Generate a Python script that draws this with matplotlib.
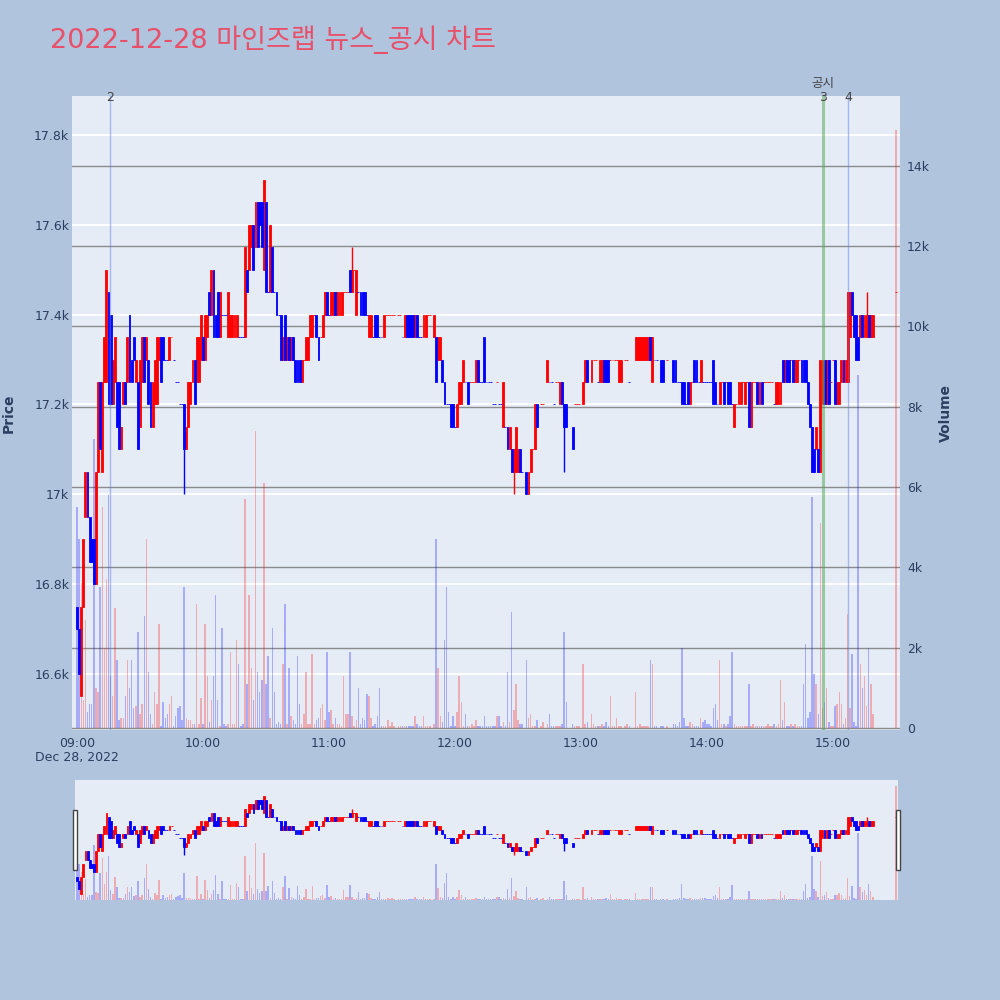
import matplotlib.pyplot as plt
from matplotlib.patches import Rectangle
from matplotlib.transforms import blended_transform_factory
import numpy as np

# 분 단위 (09:00 = 0), 마지막 값은 15:30 동시호가
minutes = list(range(380)) + [390]

opens = [
    16750, 16700, 16550, 16750, 16950, 17050, 16950, 16900, 16900, 16800,
    17050, 17250, 17050, 17250, 17250, 17450, 17400, 17200, 17250, 17250,
    17250, 17100, 17200, 17250, 17250, 17400, 17300, 17350, 17250, 17250,
    17150, 17250, 17350, 17300, 17300, 17250, 17150, 17200, 17200, 17300,
    17350, 17350, 17300, 17300, 17300, 17350, 17300, 17250, 17250, 17200,
    17200, 17200, 17100, 17150, 17200, 17250, 17300, 17250, 17250, 17300,
    17350, 17300, 17350, 17450, 17400, 17500, 17400, 17450, 17350, 17400,
    17400, 17400, 17350, 17350, 17350, 17350, 17350, 17350, 17350, 17350,
    17350, 17500, 17500, 17550, 17600, 17550, 17650, 17650, 17650, 17500,
    17650, 17450, 17450, 17550, 17450, 17450, 17400, 17400, 17300, 17400,
    17300, 17350, 17300, 17350, 17300, 17300, 17300, 17250, 17300, 17300,
    17300, 17350, 17350, 17400, 17400, 17350, 17350, 17350, 17400, 17450,
    17400, 17400, 17400, 17450, 17400, 17400, 17400, 17450, 17450, 17450,
    17500, 17450, 17500, 17400, 17450, 17450, 17450, 17450, 17400, 17350,
    17350, 17350, 17400, 17400, 17350, 17350, 17350, 17400, 17400, 17400,
    17400, 17400, None, 17400, 17400, 17350, 17350, 17400, 17400, 17400,
    17400, 17350, 17400, 17350, 17350, 17350, 17350, 17400, 17400, None,
    17350, 17350, 17300, 17300, 17300, 17250, 17200, 17200, 17200, 17200,
    17150, 17150, 17200, 17200, 17250, 17250, 17250, 17250, 17250, 17250,
    17250, 17300, 17250, 17250, 17350, 17250, 17250, 17250, 17200, 17200,
    17250, 17200, 17200, 17150, 17150, 17150, 17100, 17100, 17050, 17050,
    17050, 17100, 17050, None, 17050, 17000, 17050, 17100, 17100, 17200,
    None, 17200, 17200, None, 17250, 17250, 17250, 17200, 17250, 17250,
    17200, 17250, 17200, 17200, None, None, 17150, 17200, 17200, 17200,
    None, 17200, 17250, 17300, None, 17250, 17300, 17300, 17250, 17250,
    17250, 17300, 17300, 17300, 17300, 17300, 17300, 17300, 17250, 17250,
    None, 17300, 17300, 17250, None, None, 17300, 17300, 17300, 17300,
    17300, 17300, 17300, 17350, 17250, 17300, 17300, None, 17300, 17300,
    None, 17300, None, None, 17300, 17300, 17250, 17250, 17250, 17250,
    17200, 17250, 17200, 17250, 17300, 17300, 17250, 17250, 17250, 17250,
    17250, 17250, 17250, 17300, 17250, 17200, 17200, 17250, 17250, 17250,
    17250, 17250, 17200, 17150, 17200, 17200, 17200, 17250, 17200, 17250,
    17250, 17150, 17250, 17250, 17250, 17200, 17250, 17250, 17250, 17250,
    17250, 17250, 17200, 17200, 17200, 17200, 17300, 17250, 17300, 17300,
    17300, 17300, 17250, 17250, 17300, 17300, 17300, 17300, 17250, 17200,
    17150, 17100, 17100, 17100, 17050, 17200, 17300, 17200, 17300, 17250,
    17300, 17300, 17200, 17200, 17250, 17300, 17250, 17250, 17350, 17450,
    17400, 17400, 17350, 17350, 17400, 17350, 17350, 17400, 17350, 17350,
    17450,
]

closes = [
    16700, 16600, 16750, 16900, 17050, 16950, 16850, 16850, 16800, 17050,
    17250, 17100, 17250, 17350, 17500, 17200, 17200, 17300, 17350, 17150,
    17100, 17150, 17250, 17200, 17350, 17250, 17250, 17300, 17300, 17100,
    17300, 17350, 17250, 17350, 17200, 17150, 17250, 17300, 17350, 17350,
    17250, 17300, 17300, 17300, 17350, 17350, 17300, 17250, 17250, 17200,
    17200, 17100, 17150, 17250, 17250, 17300, 17200, 17350, 17350, 17400,
    17300, 17400, 17400, 17400, 17500, 17350, 17350, 17350, 17450, 17400,
    17400, 17400, 17450, 17400, 17400, 17400, 17400, 17350, 17350, 17350,
    17550, 17450, 17600, 17600, 17500, 17650, 17550, 17600, 17550, 17700,
    17450, 17450, 17600, 17450, 17450, 17400, 17400, 17300, 17350, 17300,
    17350, 17300, 17350, 17300, 17250, 17250, 17250, 17300, 17300, 17350,
    17350, 17400, 17400, 17400, 17350, 17300, 17350, 17400, 17450, 17400,
    17400, 17450, 17450, 17400, 17450, 17450, 17450, 17450, 17450, 17450,
    17450, 17500, 17500, 17500, 17450, 17400, 17400, 17400, 17400, 17400,
    17400, 17350, 17350, 17350, 17350, 17350, 17400, 17400, 17400, 17400,
    17400, 17400, None, 17400, 17400, 17350, 17400, 17350, 17350, 17350,
    17350, 17400, 17350, 17350, 17350, 17400, 17400, 17400, 17400, None,
    17400, 17250, 17350, 17350, 17250, 17200, 17200, 17200, 17150, 17150,
    17150, 17200, 17250, 17250, 17300, 17250, 17200, 17250, 17250, 17250,
    17300, 17250, 17250, 17250, 17250, 17250, 17250, 17250, 17200, 17200,
    17250, 17200, 17200, 17250, 17150, 17100, 17150, 17050, 17100, 17150,
    17100, 17050, 17050, None, 17000, 17050, 17100, 17100, 17200, 17150,
    None, 17200, 17200, None, 17300, 17250, 17250, 17200, 17250, 17250,
    17250, 17200, 17150, 17150, None, None, 17100, 17200, 17200, 17200,
    None, 17250, 17300, 17250, None, 17300, 17300, 17300, 17250, 17300,
    17300, 17250, 17250, 17250, 17300, 17300, 17300, 17300, 17300, 17300,
    None, 17300, 17300, 17250, None, None, 17350, 17350, 17350, 17350,
    17350, 17350, 17350, 17300, 17350, 17300, 17300, None, 17250, 17250,
    None, 17300, None, None, 17250, 17250, 17250, 17250, 17200, 17200,
    17200, 17200, 17250, 17250, 17250, 17250, 17250, 17300, 17250, 17250,
    17250, 17250, 17250, 17200, 17200, 17200, 17250, 17250, 17200, 17250,
    17200, 17200, 17200, 17200, 17200, 17250, 17250, 17250, 17250, 17250,
    17150, 17250, 17250, 17250, 17200, 17250, 17200, 17250, 17250, 17250,
    17250, 17250, 17200, 17250, 17250, 17250, 17250, 17300, 17250, 17250,
    17300, 17250, 17300, 17300, 17300, 17250, 17250, 17250, 17200, 17150,
    17050, 17050, 17150, 17050, 17300, 17300, 17200, 17300, 17200, 17250,
    17300, 17200, 17250, 17250, 17300, 17250, 17300, 17450, 17450, 17400,
    17350, 17300, 17300, 17400, 17350, 17400, 17400, 17350, 17400, 17400,
    17450,
]

volumes = [
    5500, 4700, 3600, 700, 2700, 400, 600, 600, 7200, 1000,
    900, 3500, 5500, 2000, 3700, 5800, 1300, 800, 3000, 1700,
    200, 250, 250, 800, 1700, 1000, 1700, 500, 550, 2400,
    350, 600, 2800, 4700, 1400, 350, 100, 900, 600, 2600,
    50, 650, 250, 350, 600, 800, 50, 300, 500, 550,
    200, 3500, 250, 200, 200, 100, 100, 3100, 100, 750,
    100, 2600, 1300, 150, 700, 1300, 3300, 700, 50, 2500,
    100, 50, 100, 1900, 100, 100, 2200, 1600, 50, 100,
    5700, 1100, 3300, 1500, 700, 7400, 1400, 900, 1200, 6100,
    1100, 1800, 250, 2500, 900, 100, 150, 100, 1600, 3100,
    100, 1500, 300, 200, 100, 1800, 600, 100, 350, 1400,
    100, 100, 1850, 100, 200, 250, 500, 600, 200, 1900,
    400, 450, 100, 250, 100, 100, 50, 1300, 350, 350,
    1900, 300, 50, 200, 1000, 100, 250, 200, 850, 800,
    250, 50, 100, 300, 1000, 50, 50, 50, 200, 50,
    150, 50, 0, 50, 50, 50, 50, 50, 50, 50,
    50, 300, 100, 50, 50, 300, 50, 50, 50, 0,
    100, 4700, 1500, 300, 150, 2200, 3500, 400, 50, 300,
    50, 400, 1300, 650, 50, 350, 50, 50, 100, 50,
    200, 50, 50, 50, 300, 50, 50, 50, 50, 50,
    300, 300, 50, 150, 50, 1400, 150, 2900, 450, 1100,
    200, 100, 100, 0, 1700, 250, 350, 50, 50, 200,
    0, 50, 150, 0, 100, 350, 50, 50, 50, 50,
    50, 100, 2400, 650, 0, 0, 100, 50, 50, 50,
    0, 1600, 100, 150, 0, 350, 100, 50, 50, 50,
    100, 50, 150, 50, 800, 50, 50, 250, 50, 50,
    0, 50, 100, 50, 0, 0, 900, 50, 100, 50,
    50, 50, 50, 1700, 1600, 50, 50, 0, 50, 50,
    0, 50, 0, 0, 100, 100, 50, 150, 2000, 250,
    50, 50, 150, 100, 50, 50, 50, 250, 150, 200,
    100, 100, 50, 500, 600, 200, 1700, 100, 100, 50,
    100, 300, 1900, 100, 50, 50, 50, 50, 50, 50,
    1100, 50, 100, 50, 50, 50, 50, 50, 50, 100,
    50, 50, 100, 50, 100, 1200, 200, 650, 50, 50,
    100, 50, 100, 50, 50, 50, 1100, 2100, 250, 400,
    5750, 1350, 1100, 350, 5100, 500, 650, 1000, 150, 50,
    50, 550, 600, 900, 600, 100, 250, 2850, 500, 1850,
    150, 50, 8800, 1600, 1000, 1300, 550, 2000, 1100, 350,
    14900,
]

# 몸통 밖으로 나간 꼬리
wick_high = {131: 17550, 376: 17450}
wick_low = {2: 16550, 51: 17000, 208: 17000, 232: 17050}

# 뉴스/공시 시점
event_minutes = [15.7, 355.2, 367.1]
event_labels = ['2', '3', '4']
event_notes = ['', '공시', '']

hour_ticks = [0, 60, 120, 180, 240, 300, 360]
price_ticks = [16600, 16800, 17000, 17200, 17400, 17600, 17800]
volume_ticks = [0, 2000, 4000, 6000, 8000, 10000, 12000, 14000]

UP = '#ff0000'
DOWN = '#0000ff'
BG = '#e5ecf6'
FONT_COLOR = '#2a3f5f'
PRICE_LIM = (16475, 17887)
VOL_LIM = (-50, 15740)


def candle_directions():
    result = []
    prev_c, prev_up = None, True
    for o, c in zip(opens, closes):
        if o is None:
            result.append(None)
            continue
        if c != o:
            up = c > o
        elif prev_c is not None and c != prev_c:
            up = c > prev_c
        else:
            up = prev_up
        result.append(up)
        prev_c, prev_up = c, up
    return result


def draw_candles(ax_p, ax_v, ups):
    for flag, col in ((True, UP), (False, DOWN)):
        idx = [i for i, u in enumerate(ups) if u is flag]
        x = np.array([minutes[i] for i in idx])
        o = np.array([opens[i] for i in idx], dtype=float)
        c = np.array([closes[i] for i in idx], dtype=float)
        v = np.array([volumes[i] for i in idx], dtype=float)
        ax_v.bar(x, v, width=0.7, color=col, alpha=0.27, linewidth=0)
        ax_p.bar(x, np.abs(c - o), bottom=np.minimum(o, c), width=0.9,
                 color=col, edgecolor=col, linewidth=0.6)
        for i in idx:
            lo = min(opens[i], closes[i])
            hi = max(opens[i], closes[i])
            lo2 = wick_low.get(minutes[i], lo)
            hi2 = wick_high.get(minutes[i], hi)
            if lo2 < lo or hi2 > hi:
                ax_p.vlines(minutes[i], lo2, hi2, color=col, linewidth=1)


ups = candle_directions()

fig = plt.figure(figsize=(10, 10), dpi=100, facecolor='#b0c4de')

# 메인 차트
ax = fig.add_axes([0.072, 0.27, 0.828, 0.634], facecolor=BG)
ax_vol = ax.twinx()
ax_px = ax.twinx()

ax.set_xlim(-2.4, 391.9)
ax.set_ylim(*PRICE_LIM)
ax_px.set_ylim(*PRICE_LIM)
ax_vol.set_ylim(*VOL_LIM)

draw_candles(ax_px, ax_vol, ups)

ax.set_yticks(price_ticks)
ax.set_yticklabels([f'{p / 1000:g}k' for p in price_ticks])
ax.grid(axis='y', color='white', linewidth=1.3)
ax.set_axisbelow(True)
ax.set_xticks(hour_ticks)
ax.set_xticklabels([f'{9 + m // 60:02d}:{m % 60:02d}' for m in hour_ticks])
ax.tick_params(axis='both', length=0, labelsize=9, labelcolor=FONT_COLOR)
ax.tick_params(axis='y', pad=2)
ax.tick_params(axis='x', pad=5)

ax_vol.set_yticks(volume_ticks)
ax_vol.set_yticklabels(['0'] + [f'{v // 1000}k' for v in volume_ticks[1:]])
ax_vol.grid(axis='y', color='#8c8c8c', linewidth=1)
ax_vol.set_axisbelow(True)
ax_vol.tick_params(axis='y', length=0, labelsize=9, labelcolor=FONT_COLOR, pad=5)

ax_px.set_yticks([])

for a in (ax, ax_vol, ax_px):
    for s in a.spines.values():
        s.set_visible(False)

trans = blended_transform_factory(ax_px.transData, ax_px.transAxes)
event_colors = [(0.35, 0.45, 0.9, 0.45), (0.3, 0.65, 0.3, 0.5), (0.35, 0.45, 0.9, 0.45)]
event_widths = [1.0, 2.2, 1.0]
for m, lab, note, col, lw in zip(event_minutes, event_labels, event_notes,
                                 event_colors, event_widths):
    ax_px.axvline(m, color=col, linewidth=lw)
    ax_px.text(m, 0.997, lab, transform=trans, ha='center', va='center',
               fontsize=9, color='#444444', clip_on=False)
    if note:
        ax_px.text(m, 1.02, note, transform=trans, ha='center', va='center',
                   fontsize=9, color='#444444', clip_on=False,
                   family=['Noto Sans CJK KR', 'DejaVu Sans'])

# 레인지 슬라이더
sl = fig.add_axes([0.075, 0.10, 0.823, 0.12], facecolor=BG)
sl_vol = sl.twinx()
sl_px = sl.twinx()
sl.set_xlim(-1, 391)
sl.set_ylim(*PRICE_LIM)
sl_px.set_ylim(*PRICE_LIM)
sl_vol.set_ylim(*VOL_LIM)
draw_candles(sl_px, sl_vol, ups)
for a in (sl, sl_vol, sl_px):
    a.set_xticks([])
    a.set_yticks([])
    for s in a.spines.values():
        s.set_visible(False)

for hx in (0.073, 0.896):
    fig.patches.append(Rectangle((hx, 0.13), 0.004, 0.06, transform=fig.transFigure,
                                 facecolor='white', edgecolor='#444444', linewidth=1))

# 텍스트
fig.text(0.05, 0.96, '2022-12-28 마인즈랩 뉴스_공시 차트', fontsize=19.5, color='#e8506a',
         ha='left', va='center', family=['DejaVu Sans', 'Noto Sans CJK KR'])
fig.text(0.077, 0.242, 'Dec 28, 2022', fontsize=9, color=FONT_COLOR, ha='center', va='center')
fig.text(0.009, 0.587, 'Price', rotation=90, fontsize=10, fontweight='bold',
         color=FONT_COLOR, ha='center', va='center')
fig.text(0.946, 0.587, 'Volume', rotation=90, fontsize=10, fontweight='bold',
         color=FONT_COLOR, ha='center', va='center')

fig.savefig('out.png', dpi=100, facecolor=fig.get_facecolor())
